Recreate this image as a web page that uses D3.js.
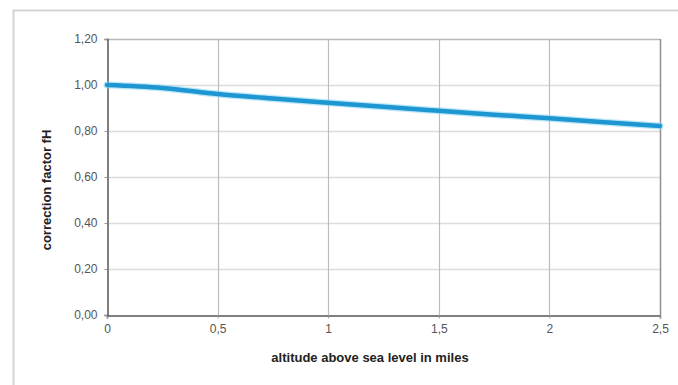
<!DOCTYPE html>
<html><head><meta charset="utf-8">
<script src="https://cdn.jsdelivr.net/npm/d3@7"></script>
<style>body{margin:0;background:#fff;} svg{display:block;}</style>
</head><body>
<svg id="c" width="678" height="385"></svg>
<script>
const altitudes = [0, 0.25, 0.5, 0.75, 1, 1.25, 1.5, 1.75, 2, 2.25, 2.5];
const factors = [1.00, 0.987, 0.961, 0.941, 0.923, 0.905, 0.888, 0.871, 0.855, 0.838, 0.822];
const xTicks = [0, 0.5, 1, 1.5, 2, 2.5];
const yTicks = [0, 0.2, 0.4, 0.6, 0.8, 1.0, 1.2];
const xTitle = "altitude above sea level in miles";
const yTitle = "correction factor fH";

const svg = d3.select("#c");
const L = 107, R = 660, T = 39, B = 315;
const x = d3.scaleLinear().domain([0, 2.5]).range([L, R]);
const y = d3.scaleLinear().domain([0, 1.2]).range([B, T]);
const fmt = d => d3.format(".2f")(d).replace(".", ",");
const fmtX = d => String(d).replace(".", ",");
const FONT = "Arial, 'Liberation Sans', sans-serif";

// outer frame
svg.append("path").attr("d", `M13.5,385 V10.5 H678`).attr("fill","none").attr("stroke","#d4d4d4").attr("stroke-width",2);

// horizontal grid
svg.append("g").selectAll("line").data(yTicks.filter(d=>d>0)).join("line")
  .attr("x1", L).attr("x2", R).attr("y1", d=>Math.round(y(d))+0.5).attr("y2", d=>Math.round(y(d))+0.5)
  .attr("stroke", d => d===1.2 ? "#b8b8b8" : "#dcdcdc").attr("stroke-width", 1.5);
// vertical grid
svg.append("g").selectAll("line").data(xTicks.filter(d=>d>0 && d<2.5)).join("line")
  .attr("y1", T).attr("y2", B).attr("x1", d=>Math.round(x(d))+0.5).attr("x2", d=>Math.round(x(d))+0.5)
  .attr("stroke", "#bdbdbd").attr("stroke-width", 1.2);
// right border
svg.append("line").attr("x1", R+0.5).attr("x2", R+0.5).attr("y1", T).attr("y2", B).attr("stroke","#909090").attr("stroke-width",1.5);

// axes
const xAxis = d3.axisBottom(x).tickValues(xTicks).tickFormat(fmtX).tickSize(3).tickPadding(6);
const yAxis = d3.axisLeft(y).tickValues(yTicks).tickFormat(fmt).tickSize(3).tickPadding(7);
const gx = svg.append("g").attr("transform", `translate(0,${B+0.5})`).call(xAxis);
const gy = svg.append("g").attr("transform", `translate(${L+0.5},0)`).call(yAxis);
[gx, gy].forEach(g => {
  g.select(".domain").attr("stroke", "#555").attr("stroke-width", 1.5);
  g.selectAll(".tick line").attr("stroke", "#999");
  g.selectAll("text").attr("fill", "#555").style("font-family", FONT).style("font-size", "12px");
});

// line
const line = d3.line().x((d,i)=>x(altitudes[i])).y(d=>y(d)).curve(d3.curveMonotoneX);
svg.append("path").datum(factors).attr("d", line).attr("fill","none")
  .attr("stroke","#8fd8f2").attr("stroke-width",7).attr("stroke-linecap","round").attr("opacity",0.6);
svg.append("path").datum(factors).attr("d", line).attr("fill","none")
  .attr("stroke","#1e96d2").attr("stroke-width",4.5).attr("stroke-linecap","round");

// titles
svg.append("text").attr("x", 370).attr("y", 362).attr("text-anchor","middle")
  .style("font-family",FONT).style("font-size","13px").style("font-weight","bold")
  .attr("fill","#222").text(xTitle);
svg.append("text").attr("transform", `translate(51,190) rotate(-90)`).attr("text-anchor","middle")
  .style("font-family",FONT).style("font-size","13px").style("font-weight","bold")
  .attr("fill","#222").text(yTitle);
</script>
</body></html>
